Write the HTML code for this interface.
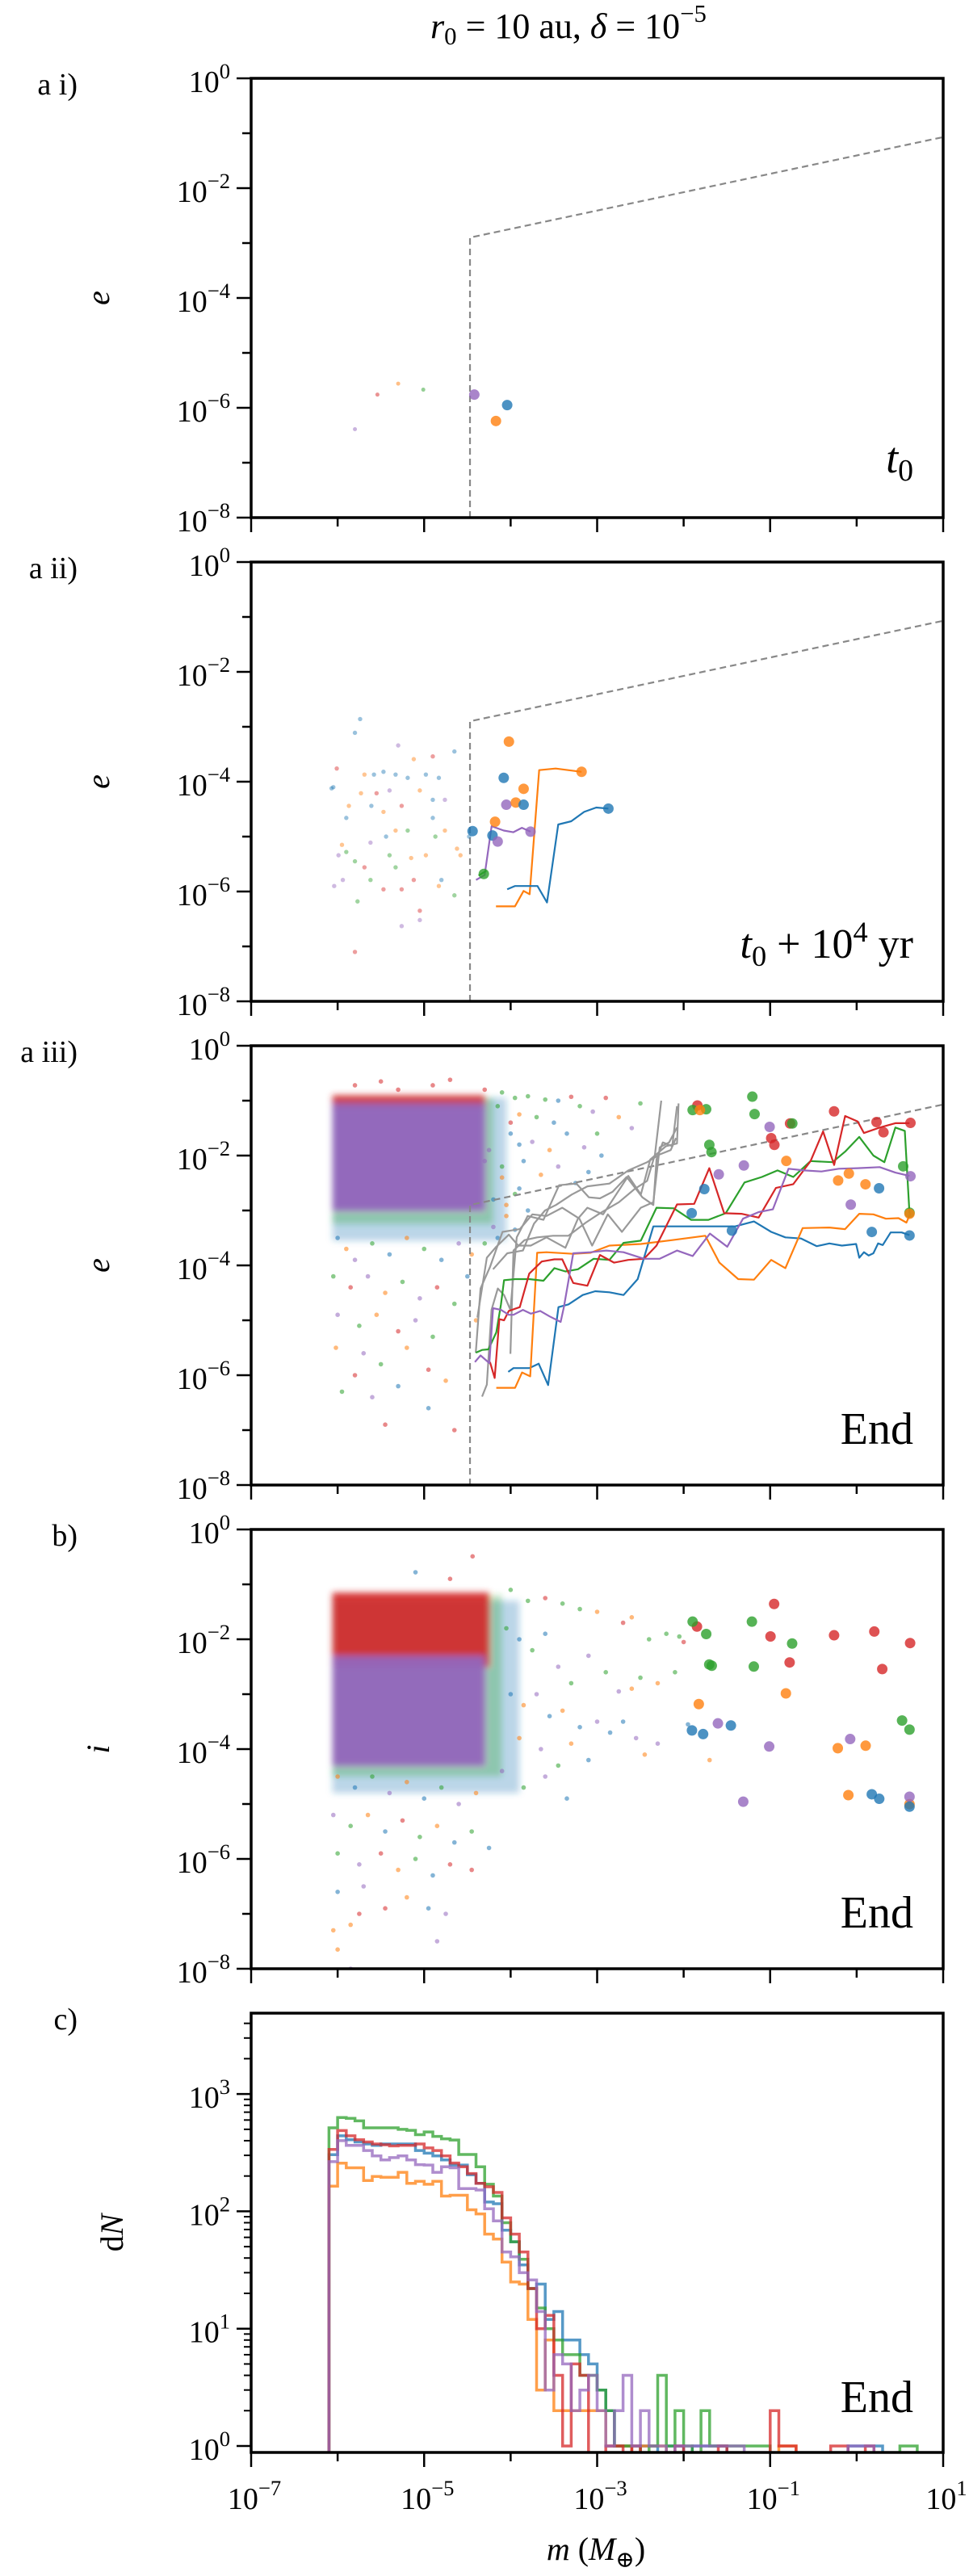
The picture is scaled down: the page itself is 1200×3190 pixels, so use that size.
<!DOCTYPE html>
<html><head><meta charset="utf-8"><style>
html,body{margin:0;padding:0;background:#fff}
</style></head><body>
<svg id="fig" xmlns="http://www.w3.org/2000/svg" width="1200" height="3185" viewBox="0 0 1200 3185">
<defs>
<filter id="blur" x="-20%" y="-20%" width="140%" height="140%"><feGaussianBlur stdDeviation="4"/></filter>
</defs>
<g id="root"></g>
</svg>
<script>
// ---------------- data (log10 units) ----------------
const colors = ['#1f77b4','#ff7f0e','#2ca02c','#d62728','#9467bd'];
const xTickExp = [-7,-6,-5,-4,-3,-2,-1,0,1];
const yTickExpE = [0,-1,-2,-3,-4,-5,-6,-7,-8];
const yTickExpN = [0,1,2,3];
const boundM = [-4.47,-4.47,1.0];
const boundE = [-8.0,-2.9,-1.07];
// panel a i
const a1SmallM = [-5.80,-5.54,-5.30,-5.01];
const a1SmallE = [-6.39,-5.76,-5.56,-5.67];
const a1SmallC = [4,3,1,2];
const a1BigM = [-4.42,-4.04,-4.17];
const a1BigE = [-5.76,-5.95,-6.24];
const a1BigC = [4,0,1];
// panel a ii
const a2SmallM = [-5.74,-5.80,-6.01,-6.07,-5.95,-5.99,-6.04,-5.77,-5.80,-5.58,-5.47,-5.33,-5.19,-4.98,-4.83,-4.65,-5.30,-5.47,-5.61,-5.73,-5.26,-5.05,-4.90,-4.76,-4.62,-4.48,-5.90,-5.80,-5.62,-5.47,-5.33,-5.15,-4.98,-4.80,-4.65,-5.26,-5.05,-5.05,-5.62,-5.90,-5.44,-5.19,-4.90,-5.69,-5.12,-4.90,-5.55,-5.40,-4.76,-4.58,-5.69,-4.83,-5.94,-5.12,-5.33,-5.40,-4.87,-5.87,-6.05,-5.26];
const a2SmallE = [-2.86,-3.11,-3.76,-4.12,-5.15,-5.34,-5.90,-6.18,-7.10,-3.87,-3.82,-3.87,-3.93,-3.87,-3.93,-3.45,-3.34,-4.55,-4.44,-4.21,-4.44,-4.16,-4.66,-4.89,-5.22,-5.00,-4.66,-5.45,-5.79,-5.96,-5.56,-5.39,-5.34,-5.79,-6.07,-6.63,-6.35,-6.52,-5.11,-5.28,-5.00,-4.89,-4.33,-3.87,-3.59,-3.54,-4.21,-4.16,-4.33,-5.34,-5.56,-5.90,-5.79,-5.79,-4.89,-5.34,-5.00,-4.44,-4.10,-5.96];
const a2SmallC = [0,0,3,0,1,4,4,2,3,0,0,0,0,0,0,0,4,1,0,1,3,1,0,1,1,0,0,2,2,3,2,1,1,0,2,4,3,4,4,2,0,2,0,1,1,3,3,4,4,1,3,1,4,3,1,2,2,1,0,3];
const a2BigM = [-4.02,-4.08,-3.85,-4.05,-3.94,-3.85,-4.18,-4.44,-4.21,-4.15,-4.31,-3.18,-2.87,-3.77];
const a2BigE = [-3.27,-3.93,-4.13,-4.42,-4.38,-4.42,-4.73,-4.90,-4.98,-5.09,-5.68,-3.82,-4.49,-4.91];
const a2BigC = [1,0,1,4,1,0,1,0,0,4,2,1,0,4];
const a2LineOrangeM = [-4.17,-3.95,-3.85,-3.78,-3.67,-3.48,-3.18];
const a2LineOrangeE = [-6.27,-6.27,-5.99,-6.05,-3.79,-3.76,-3.82];
const a2LineBlueM = [-4.04,-3.95,-3.69,-3.58,-3.45,-3.30,-3.15,-3.01,-2.87];
const a2LineBlueE = [-5.96,-5.90,-5.90,-6.20,-4.78,-4.72,-4.55,-4.47,-4.49];
const a2LinePurpleM = [-4.40,-4.30,-4.22,-4.08,-3.97,-3.87,-3.77];
const a2LinePurpleE = [-5.79,-5.70,-4.81,-4.89,-4.92,-4.84,-4.91];
const a2LineGreenM = [-4.37,-4.28];
const a2LineGreenE = [-5.71,-5.62];
// panel a iii (dense cloud regions: [mMin,mMax], [eTop,eBottom])
const a3CoreM = [[-6.06,-4.05],[-6.06,-4.2],[-6.06,-4.3],[-6.06,-4.3]];
const a3CoreE = [[-0.95,-3.55],[-0.95,-3.25],[-0.9,-1.15],[-1.05,-3.0]];
const a3CoreC = [0,2,3,4];
const a3CoreO = [0.3,0.3,0.85,0.97];
const a3SmallM = [-5.8,-5.5,-5.3,-4.9,-4.7,-4.3,-4.1,-3.95,-3.8,-3.6,-3.45,-3.3,-3.2,-3.05,-2.9,-2.75,-2.6,-2.5,-3.7,-3.5,-3.9,-4.0,-3.75,-3.55,-3.35,-3.15,-2.95,-3.0,-3.85,-3.65,-3.45,-3.25,-3.1,-4.1,-3.9,-4.05,-3.8,-4.2,-3.95,-4.3,-6.0,-5.9,-5.8,-5.6,-5.4,-5.2,-5.0,-4.8,-4.6,-4.45,-6.05,-5.85,-5.65,-5.45,-5.25,-5.05,-4.85,-4.65,-6.0,-5.75,-5.55,-5.3,-5.1,-4.9,-6.02,-5.7,-5.5,-5.2,-4.95,-5.95,-5.6,-5.3,-4.95,-5.45,-4.65,-5.8,-4.75,-4.5,-4.4,-4.15,-4.0,-3.9,-4.25,-4.1,-3.95,-4.2,-4.05,-4.3,-4.15];
const a3SmallE = [-0.72,-0.65,-0.8,-0.72,-0.62,-0.8,-0.85,-0.95,-0.92,-0.98,-1.0,-0.93,-1.1,-1.2,-0.95,-1.3,-1.5,-1.05,-1.3,-1.4,-1.25,-1.6,-1.75,-1.9,-1.6,-1.85,-2.0,-1.6,-2.1,-2.35,-2.2,-2.5,-2.3,-2.2,-2.6,-2.9,-3.0,-3.3,-3.35,-3.6,-3.5,-3.7,-3.9,-3.6,-3.8,-3.5,-3.7,-3.9,-3.6,-3.8,-4.2,-4.4,-4.2,-4.5,-4.3,-4.6,-4.4,-4.7,-4.9,-5.1,-4.9,-5.2,-5.0,-5.3,-5.5,-5.6,-5.8,-5.5,-5.9,-6.3,-6.4,-6.2,-6.6,-6.9,-7.0,-6.0,-6.1,-4.2,-5.0,-1.1,-1.4,-1.8,-1.9,-2.4,-2.7,-2.8,-3.1,-2.1,-3.5];
const a3SmallC = [3,3,3,3,3,3,2,2,2,2,0,3,2,4,3,1,4,2,2,0,1,0,4,1,0,4,0,2,0,1,4,0,0,2,0,1,0,4,0,2,0,1,4,2,0,1,2,0,4,1,2,3,4,1,2,4,3,2,4,2,1,3,4,2,1,4,2,1,3,2,4,0,0,3,3,3,1,0,1,2,3,0,4,1,2,0,1,4,0];
const a3BigM = [-1.841,-0.261,-0.770,-0.988,-0.951,0.230,0.310,0.622,-1.896,-1.740,-1.206,-1.180,-1.703,-1.678,-0.744,0.538,0.611,-1.812,-0.813,-0.214,-0.090,0.102,0.611,-1.006,-1.594,-1.304,-0.068,0.622,-1.761,-1.907,-1.442,0.259,0.175,0.611];
const a3BigE = [-1.088,-1.195,-1.415,-1.683,-1.805,-1.390,-1.576,-1.405,-1.171,-1.156,-0.927,-1.244,-1.805,-1.937,-1.415,-2.196,-3.04,-1.171,-2.098,-2.454,-2.327,-2.523,-3.06,-1.478,-2.342,-2.181,-2.893,-2.376,-2.610,-3.050,-3.367,-2.596,-3.391,-3.455];
const a3BigC = [3,3,3,3,3,3,3,3,2,2,2,2,2,2,2,2,2,1,1,1,1,1,1,4,4,4,4,4,0,0,0,0,0,0];
const redM = [-4.239,-4.185,-4.130,-4.076,-4.021,-3.894,-3.785,-3.640,-3.494,-3.403,-3.276,-3.113,-2.967,-2.804,-2.640,-2.458,-2.314,-2.077,-1.878,-1.703,-1.532,-1.332,-1.133,-0.933,-0.733,-0.533,-0.388,-0.260,-0.133,0.011,0.084,0.266,0.447,0.611];
const redE = [-5.76,-6.05,-4.98,-5.00,-4.83,-4.76,-4.15,-3.93,-3.89,-3.89,-4.32,-4.37,-3.81,-3.95,-3.90,-3.88,-3.64,-2.89,-2.88,-2.23,-3.05,-3.06,-3.13,-2.59,-2.52,-2.10,-1.56,-2.17,-1.28,-1.38,-1.59,-1.49,-1.41,-1.41];
const orangeM = [-4.166,-3.948,-3.868,-3.774,-3.694,-3.585,-3.276,-3.076,-2.858,-2.495,-2.132,-1.750,-1.587,-1.369,-1.187,-0.988,-0.824,-0.624,-0.315,-0.134,0.030,0.193,0.338,0.484,0.575,0.622];
const orangeE = [-6.23,-6.23,-5.95,-6.02,-3.77,-3.76,-3.79,-3.77,-3.64,-3.61,-3.54,-3.46,-3.95,-4.25,-4.26,-3.90,-4.05,-3.32,-3.31,-3.34,-3.06,-3.07,-3.15,-3.14,-3.22,-3.05];
const blueM = [-4.028,-3.967,-3.785,-3.676,-3.567,-3.447,-3.331,-3.167,-3.022,-2.858,-2.695,-2.531,-2.350,-2.132,-1.732,-1.405,-1.187,-0.988,-0.824,-0.642,-0.461,-0.315,-0.170,-0.006,0.030,0.084,0.139,0.193,0.248,0.302,0.393,0.520,0.611];
const blueE = [-5.94,-5.87,-5.87,-5.79,-6.18,-4.76,-4.71,-4.54,-4.47,-4.49,-4.54,-4.25,-3.29,-3.29,-3.29,-3.29,-3.20,-3.39,-3.49,-3.51,-3.65,-3.60,-3.64,-3.61,-3.86,-3.76,-3.82,-3.78,-3.60,-3.63,-3.40,-3.40,-3.45];
const greenM = [-4.403,-4.330,-4.257,-4.166,-4.112,-4.076,-3.948,-3.785,-3.621,-3.494,-3.367,-3.222,-3.040,-2.858,-2.695,-2.495,-2.314,-2.114,-1.914,-1.714,-1.514,-1.296,-1.096,-0.915,-0.733,-0.533,-0.279,-0.134,0.030,0.193,0.320,0.447,0.557,0.611];
const greenE = [-5.59,-5.54,-5.53,-5.22,-4.71,-4.27,-4.25,-4.25,-4.28,-4.05,-4.11,-4.07,-3.88,-3.90,-3.59,-3.55,-2.95,-2.96,-3.17,-3.17,-3.05,-2.49,-2.39,-2.27,-2.39,-2.10,-2.12,-1.93,-1.66,-2.00,-2.12,-1.49,-1.55,-3.05];
const purpleM = [-4.413,-4.348,-4.246,-4.203,-4.112,-4.021,-3.967,-3.858,-3.767,-3.658,-3.549,-3.422,-3.385,-3.276,-3.076,-2.895,-2.695,-2.459,-2.277,-2.077,-1.896,-1.696,-1.496,-1.314,-1.133,-0.969,-0.788,-0.606,-0.406,-0.206,0.012,0.266,0.447,0.611];
const purpleE = [-5.76,-5.64,-5.78,-4.78,-4.81,-4.90,-4.90,-4.81,-4.88,-4.83,-4.93,-5.03,-4.76,-3.78,-3.76,-3.73,-3.76,-3.88,-3.88,-3.73,-3.83,-3.42,-3.66,-3.15,-3.03,-2.98,-2.24,-2.27,-2.29,-2.24,-2.23,-2.21,-2.31,-2.37];
const gray1M = [-4.330,-4.275,-4.221,-4.148,-4.076,-4.003,-3.930,-3.803,-3.621,-3.440,-3.240,-3.095,-2.967,-2.822,-2.659,-2.477,-2.350,-2.314,-2.241,-2.132,-2.077];
const gray1E = [-6.39,-6.17,-4.81,-4.42,-4.54,-4.81,-3.49,-3.10,-3.17,-2.54,-2.51,-2.76,-2.78,-2.66,-2.39,-2.76,-2.90,-2.07,-1.76,-1.83,-1.10];
const gray2M = [-4.403,-4.348,-4.239,-4.094,-3.894,-3.749,-3.585,-3.404,-3.204,-3.058,-2.877,-2.713,-2.495,-2.350,-2.277,-2.168,-2.077];
const gray2E = [-5.59,-4.42,-4.03,-3.39,-3.34,-3.07,-3.10,-2.95,-3.15,-3.64,-3.07,-3.39,-2.95,-2.85,-1.85,-1.76,-1.49];
const gray3M = [-4.003,-3.967,-3.839,-3.694,-3.512,-3.331,-3.131,-2.967,-2.749,-2.568,-2.422,-2.332,-2.259];
const gray3E = [-5.61,-3.73,-3.54,-3.49,-3.46,-3.46,-3.22,-3.05,-2.85,-2.61,-2.46,-1.98,-1.00];
const gray4M = [-4.384,-4.275,-4.166,-4.021,-3.912,-3.767,-3.585,-3.367,-3.222,-3.113,-2.931,-2.640,-2.495,-2.386,-2.205,-2.077,-2.059];
const gray4E = [-4.95,-3.86,-3.66,-3.44,-3.64,-3.64,-3.49,-3.68,-3.15,-2.95,-3.07,-2.37,-2.71,-2.07,-1.83,-1.78,-1.05];
const gray5M = [-4.203,-4.039,-3.858,-3.730,-3.603,-3.476,-3.294,-3.113,-2.858,-2.640,-2.422,-2.277,-2.150,-2.088];
const gray5E = [-4.07,-3.78,-3.73,-3.24,-3.00,-2.90,-2.71,-2.56,-2.51,-2.27,-2.12,-1.98,-1.90,-1.68];
// panel b
const bCoreM = [[-6.06,-3.9],[-6.06,-4.1],[-6.06,-4.25],[-6.06,-4.3]];
const bCoreI = [[-1.3,-4.8],[-1.2,-4.5],[-1.15,-2.5],[-2.3,-4.3]];
const bCoreC = [0,2,3,4];
const bCoreO = [0.3,0.3,0.9,0.95];
const bSmallM = [-4.44,-5.1,-4.7,-4.0,-3.8,-3.6,-3.4,-3.2,-3.0,-2.7,-2.6,-2.4,-2.2,-2.05,-2.0,-4.05,-3.9,-3.75,-3.6,-3.45,-3.3,-3.1,-2.9,-2.75,-2.6,-2.5,-2.3,-2.1,-4.0,-3.85,-3.7,-3.55,-3.4,-3.2,-3.0,-2.85,-2.7,-2.55,-2.3,-2.45,-1.95,-1.7,-3.9,-3.65,-3.45,-3.3,-3.1,-4.1,-3.85,-3.6,-3.35,-6.0,-5.8,-5.6,-5.4,-5.2,-5.0,-4.8,-4.6,-4.4,-6.05,-5.85,-5.65,-5.45,-5.25,-5.05,-4.85,-4.65,-4.45,-6.0,-5.75,-5.5,-5.3,-5.1,-4.9,-4.7,-4.45,-6.0,-5.7,-5.45,-5.2,-4.95,-4.75,-6.05,-5.85,-5.75,-6.0,-5.85,-4.85,-4.25];
const bSmallI = [-0.49,-0.78,-0.9,-1.1,-1.3,-1.25,-1.35,-1.45,-1.5,-1.7,-1.6,-2.0,-1.9,-1.95,-2.05,-1.8,-2.0,-2.2,-1.9,-2.5,-2.8,-2.3,-2.6,-2.95,-2.9,-2.7,-2.8,-2.6,-3.0,-3.2,-3.0,-3.4,-3.3,-3.6,-3.5,-3.7,-3.5,-3.8,-3.9,-4.1,-3.55,-4.2,-3.8,-4.0,-4.3,-3.9,-4.2,-4.4,-4.7,-4.5,-4.9,-4.5,-4.7,-4.5,-4.8,-4.6,-4.9,-4.7,-5.0,-4.8,-5.2,-5.4,-5.2,-5.5,-5.3,-5.6,-5.4,-5.7,-5.5,-5.9,-6.1,-5.9,-6.2,-6.0,-6.3,-6.1,-6.2,-6.6,-6.5,-6.9,-6.7,-6.9,-7.0,-7.3,-7.2,-7.0,-7.65,-8.0,-7.5,-5.8];
const bSmallC = [3,0,3,2,2,3,2,2,1,3,1,2,2,2,3,2,0,2,0,4,2,4,2,4,1,2,1,2,0,1,4,0,1,0,4,0,0,4,4,1,0,1,1,4,2,1,0,4,2,4,0,1,0,2,4,1,0,2,4,1,4,2,1,0,3,2,1,0,2,2,4,3,1,2,0,3,3,0,4,3,1,0,4,1,1,3,1,4,4,0];
const bBigM = [-0.954,-1.846,-0.996,-0.261,0.204,0.618,-0.775,0.296,-1.896,-1.739,-1.211,-0.746,-1.704,-1.675,-1.189,0.525,0.611,-1.825,-0.818,-0.218,0.104,-0.096,0.611,-1.604,-1.011,-0.075,-1.311,0.611,-1.904,-1.775,-1.454,0.175,0.261,0.611];
const bBigI = [-1.357,-1.769,-1.949,-1.927,-1.859,-2.069,-2.422,-2.542,-1.679,-1.904,-1.679,-2.077,-2.459,-2.482,-2.497,-3.480,-3.645,-3.180,-2.985,-3.983,-3.938,-4.838,-5.003,-3.532,-3.953,-3.817,-4.958,-4.868,-3.660,-3.727,-3.570,-4.823,-4.905,-5.048];
const bBigC = [3,3,3,3,3,3,3,3,2,2,2,2,2,2,2,2,2,1,1,1,1,1,1,4,4,4,4,4,0,0,0,0,0,0];
// panel c histogram: bins of 0.1 dex starting at log m = -6.1
const histStart = -6.1;
const histWidth = 0.1;
const histBlue = [304,440,408,390,375,365,375,375,375,375,330,313,297,274,248,248,205,173,120,116,69,55,35,22,24,12,14,8,8,6,5,3,2,1,1,0,1,1,0,1,1,0,1,1,1,1,0,0,0,0,0,0,0,0,0,0,0,0,0,0,1,1,1,1,0,0,0,0];
const histOrange = [164,257,235,235,183,198,195,195,215,173,180,170,180,135,137,137,103,95,64,58,37,25,24,12,3,8,2,2,2,2,2,2,1,1,1,0,1,1,1,0,0,0,0,0,0,0,0,0,0,0,0,0,1,1,0,0,0,0,0,0,0,0,0,0,0,0,0,0];
const histGreen = [515,630,620,590,515,515,515,515,500,490,450,475,435,415,405,305,305,240,170,135,80,55,39,22,15,10,8,6,6,4,4,3,2,1,1,1,0,1,4,1,2,1,0,2,1,1,1,1,1,1,1,0,0,0,0,0,0,0,0,0,0,0,0,0,0,0,1,1];
const histRed = [337,488,440,408,390,375,369,361,365,365,375,347,330,297,258,240,210,173,162,145,88,64,45,22,10,13,4,1,5,4,0,0,1,1,0,1,0,0,0,0,1,0,0,0,0,1,0,0,0,0,0,2,1,1,0,0,0,0,1,1,0,0,1,0,0,0,0,0];
const histPurple = [265,400,365,365,330,297,274,287,297,274,250,248,215,240,235,156,156,152,105,83,45,41,30,26,14,3,6,5,2,3,4,2,1,2,4,1,2,1,1,0,1,1,1,1,1,1,1,1,0,0,0,0,0,0,0,0,0,0,0,0,1,1,1,0,0,0,0,0];

// ---------------- layout ----------------
const NS = 'http://www.w3.org/2000/svg';
const FONT = '"Liberation Serif", "DejaVu Serif", serif';
const root = document.getElementById('root');
const X0 = 311, X1 = 1168, PH = 544;
const tops = [97, 696, 1295, 1894, 2493];
function xs(lm){ return X0 + (lm + 7) * (X1 - X0) / 8; }
function mk(tag, attrs, parent){
  const e = document.createElementNS(NS, tag);
  for (const k in attrs) e.setAttribute(k, attrs[k]);
  (parent || root).appendChild(e);
  return e;
}
function ysFactory(top, ymax, ymin){ return v => top + (ymax - v) * PH / (ymax - ymin); }

// parts: {t, it, dy, small}
function addText(g, x, y, size, anchor, parts, name){
  const t = mk('text', {x:x, y:y, 'font-size':size, 'text-anchor':anchor, 'font-family':FONT, fill:'#000'}, g);
  
  
  parts.forEach(p => {
    const s = mk('tspan', {}, t);
    if (p.it) s.setAttribute('font-style', 'italic');
    if (p.dy) s.setAttribute('dy', p.dy);
    s.setAttribute('font-size', p.small ? size * 0.7 : size);
    s.textContent = p.t;
  });
  return t;
}
function tenPow(g, x, y, exp, name, anchor){
  const ex = String(exp).replace('-', '\u2212');
  return addText(g, x, y, 38, anchor || 'end', [{t:'10'}, {t:ex, dy:-17, small:1}], name);
}

function drawPanel(idx, opts){
  const top = tops[idx], bottom = top + PH;
  const ys = ysFactory(top, opts.ymax, opts.ymin);
  const g = mk('g', {});
  
  
  const clipId = 'clip' + idx;
  const cp = mk('clipPath', {id: clipId}, g);
  mk('rect', {x:X0, y:top, width:X1-X0, height:PH}, cp);
  const plot = mk('g', {'clip-path':'url(#' + clipId + ')'}, g);
  
  
  opts.draw(plot, ys, bottom);
  const fr = mk('rect', {x:X0, y:top, width:X1-X0, height:PH, fill:'none', stroke:'#000', 'stroke-width':3.5}, g);
  
  
  xTickExp.forEach(e => {
    const major = (e % 2 !== 0);
    const l = mk('line', {x1:xs(e), x2:xs(e), y1:bottom, y2:bottom + (major ? 18 : 11), stroke:'#000', 'stroke-width':2.5}, g);
    
    
    if (opts.xlabels && major) tenPow(g, xs(e) + 4, bottom + 70, e, 'x-tick-label', 'middle');
  });
  if (opts.logN) {
    yTickExpN.forEach(e => {
      const l = mk('line', {x1:X0 - 18, x2:X0, y1:ys(e), y2:ys(e), stroke:'#000', 'stroke-width':2.5}, g);
      
      
      tenPow(g, X0 - 26, ys(e) + 17, e, 'y-tick-label');
      for (let m = 2; m <= 9; m++) {
        const v = e + Math.log10(m);
        if (v > opts.ymax) continue;
        const ml = mk('line', {x1:X0 - 9, x2:X0, y1:ys(v), y2:ys(v), stroke:'#000', 'stroke-width':2}, g);
        
        
      }
    });
  } else {
    yTickExpE.forEach(e => {
      const major = (e % 2 === 0);
      const l = mk('line', {x1:X0 - (major ? 18 : 11), x2:X0, y1:ys(e), y2:ys(e), stroke:'#000', 'stroke-width':2.5}, g);
      
      
      if (major) tenPow(g, X0 - 26, ys(e) + 17, e, 'y-tick-label');
    });
  }
  addText(g, 96, top + 20, 38, 'end', [{t:opts.label}], 'panel-label');
  const yl = addText(g, 0, 0, 40, 'middle', opts.ylab, 'y-axis-title');
  yl.setAttribute('transform', 'translate(' + opts.ylx + ',' + (top + PH/2) + ') rotate(-90)');
  addText(g, 1131, top + opts.annY, opts.annSize, 'end', opts.ann, 'time-annotation');
  return {g, ys};
}

function dots(p, ys, M, E, C, r, op, name){
  M.forEach((m, i) => {
    const c = mk('circle', {cx:xs(m), cy:ys(E[i]), r:r, fill:colors[C[i]], 'fill-opacity':op}, p);
    
    
  });
}
function line(p, ys, M, E, col, w, name){
  const d = M.map((m, i) => (i ? 'L' : 'M') + xs(m).toFixed(1) + ' ' + ys(E[i]).toFixed(1)).join(' ');
  const l = mk('path', {d:d, fill:'none', stroke:col, 'stroke-width':w, 'stroke-linejoin':'round'}, p);
  
  
}
function boundary(p, ys){
  const d = boundM.map((m, i) => (i ? 'L' : 'M') + xs(m) + ' ' + ys(boundE[i])).join(' ');
  const l = mk('path', {d:d, fill:'none', stroke:'#888', 'stroke-width':2.2, 'stroke-dasharray':'8,5'}, p);
  
  
}
function cores(p, ys, M, E, C, O){
  const g = mk('g', {filter:'url(#blur)'}, p);
  
  
  M.forEach((mr, i) => {
    const x = xs(mr[0]), w = xs(mr[1]) - x, y = ys(E[i][0]), h = ys(E[i][1]) - y;
    const r = mk('rect', {x:x, y:y, width:w, height:h, fill:colors[C[i]], 'fill-opacity':O[i]}, g);
    
    
  });
}

// title
const tg = mk('g', {});


addText(tg, 704, 47, 44, 'middle', [{t:'r', it:1}, {t:'0', dy:8, small:1}, {t:' = 10 au, ', dy:-8}, {t:'δ', it:1}, {t:' = 10'}, {t:'\u22125', dy:-20, small:1}], 'title-text');

// a i
drawPanel(0, {name:'panel-a-i', ymax:0, ymin:-8, label:'a i)', ylab:[{t:'e', it:1}], ylx:135, ann:[{t:'t', it:1}, {t:'0', dy:10, small:1}], annY:488, annSize:54,
  draw:(p, ys) => { boundary(p, ys); dots(p, ys, a1SmallM, a1SmallE, a1SmallC, 2.5, 0.5, 'planetesimal-dot'); dots(p, ys, a1BigM, a1BigE, a1BigC, 6.5, 0.8, 'embryo-dot'); }});
// a ii
drawPanel(1, {name:'panel-a-ii', ymax:0, ymin:-8, label:'a ii)', ylab:[{t:'e', it:1}], ylx:135, ann:[{t:'t', it:1}, {t:'0', dy:10, small:1}, {t:' + 10', dy:-10}, {t:'4', dy:-20, small:1}, {t:' yr', dy:20}], annY:490, annSize:52,
  draw:(p, ys) => {
    boundary(p, ys);
    dots(p, ys, a2SmallM, a2SmallE, a2SmallC, 2.7, 0.45, 'planetesimal-dot');
    line(p, ys, a2LineOrangeM, a2LineOrangeE, colors[1], 2.2, 'embryo-track-orange');
    line(p, ys, a2LineBlueM, a2LineBlueE, colors[0], 2.2, 'embryo-track-blue');
    line(p, ys, a2LinePurpleM, a2LinePurpleE, colors[4], 2.2, 'embryo-track-purple');
    line(p, ys, a2LineGreenM, a2LineGreenE, colors[2], 2.2, 'embryo-track-green');
    dots(p, ys, a2BigM, a2BigE, a2BigC, 6.5, 0.8, 'embryo-dot');
  }});
// a iii
drawPanel(2, {name:'panel-a-iii', ymax:0, ymin:-8, label:'a iii)', ylab:[{t:'e', it:1}], ylx:135, ann:[{t:'End'}], annY:493, annSize:56,
  draw:(p, ys) => {
    cores(p, ys, a3CoreM, a3CoreE, a3CoreC, a3CoreO);
    dots(p, ys, a3SmallM, a3SmallE, a3SmallC, 2.8, 0.55, 'planetesimal-dot');
    boundary(p, ys);
    [[gray1M,gray1E],[gray2M,gray2E],[gray3M,gray3E],[gray4M,gray4E],[gray5M,gray5E]].forEach(a => line(p, ys, a[0], a[1], '#999', 2.2, 'merged-embryo-track'));
    line(p, ys, blueM, blueE, colors[0], 2.2, 'embryo-track-blue');
    line(p, ys, orangeM, orangeE, colors[1], 2.2, 'embryo-track-orange');
    line(p, ys, greenM, greenE, colors[2], 2.2, 'embryo-track-green');
    line(p, ys, redM, redE, colors[3], 2.2, 'embryo-track-red');
    line(p, ys, purpleM, purpleE, colors[4], 2.2, 'embryo-track-purple');
    dots(p, ys, a3BigM, a3BigE, a3BigC, 6.5, 0.8, 'embryo-dot');
  }});
// b
drawPanel(3, {name:'panel-b', ymax:0, ymin:-8, label:'b)', ylab:[{t:'i', it:1}], ylx:135, ann:[{t:'End'}], annY:493, annSize:56,
  draw:(p, ys) => {
    cores(p, ys, bCoreM, bCoreI, bCoreC, bCoreO);
    dots(p, ys, bSmallM, bSmallI, bSmallC, 2.8, 0.55, 'planetesimal-dot');
    dots(p, ys, bBigM, bBigI, bBigC, 6.5, 0.8, 'embryo-dot');
  }});
// c
drawPanel(4, {name:'panel-c', ymax:3.689, ymin:-0.055, logN:true, xlabels:true, label:'c)', ylab:[{t:'d'}, {t:'N', it:1}], ylx:152, ann:[{t:'End'}], annY:494, annSize:56,
  draw:(p, ys, bottom) => {
    const hs = [[histBlue,0],[histOrange,1],[histGreen,2],[histRed,3],[histPurple,4]];
    hs.forEach(h => {
      const vals = h[0];
      let d = 'M' + xs(histStart) + ' ' + (bottom + 5);
      vals.forEach((n, k) => {
        const xl = xs(histStart + k * histWidth), xr = xs(histStart + (k + 1) * histWidth);
        const y = n > 0 ? ys(Math.log10(n)) : bottom + 5;
        d += ' L' + xl.toFixed(1) + ' ' + y.toFixed(1) + ' L' + xr.toFixed(1) + ' ' + y.toFixed(1);
      });
      d += ' L' + xs(histStart + vals.length * histWidth) + ' ' + (bottom + 5);
      const path = mk('path', {d:d, fill:'none', stroke:colors[h[1]], 'stroke-width':3.5, 'stroke-opacity':0.75}, p);
      
      
    });
  }});
// x axis title
const xg = mk('g', {});


addText(xg, 738, 3170, 40, 'middle', [{t:'m', it:1}, {t:' ('}, {t:'M', it:1}, {t:'⊕', dy:9, small:1}, {t:')', dy:-9}], 'x-axis-title-text');
</script>
</body></html>
